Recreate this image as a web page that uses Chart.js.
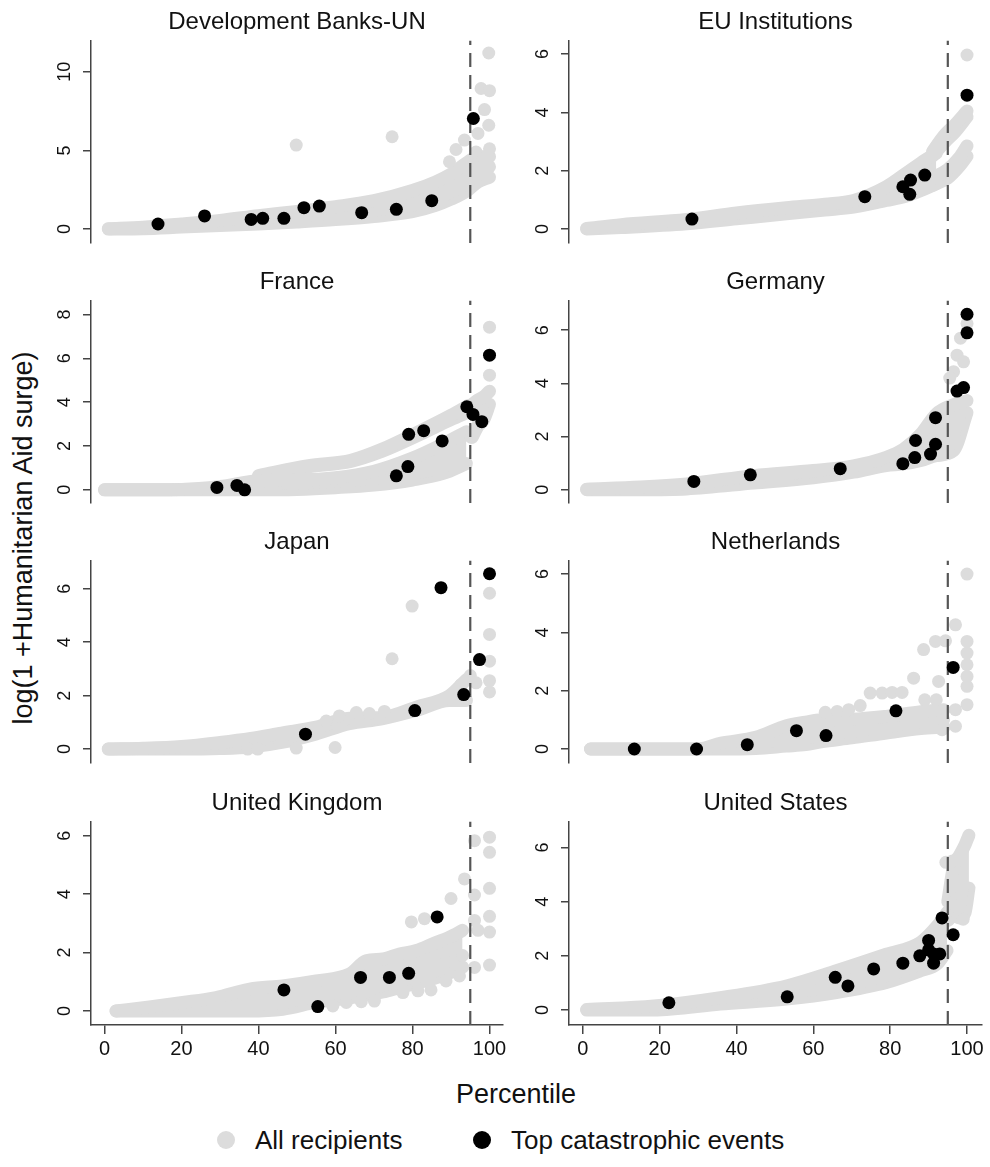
<!DOCTYPE html>
<html>
<head>
<meta charset="utf-8">
<title>Humanitarian aid surge by donor</title>
<script src="https://cdn.jsdelivr.net/npm/chart.js@4.4.1/dist/chart.umd.min.js"></script>
<style>
  body { margin: 0; background: #fff; font-family: 'Liberation Sans', Arial, Helvetica, sans-serif; color: #111; }
  #page { position: relative; width: 990px; height: 1167px; overflow: hidden; }
  #page canvas { position: absolute; }
  .ytitle { position: absolute; left: 23px; top: 538px; transform: translate(-50%, -50%) rotate(-90deg);
            font-size: 27px; line-height: 27px; white-space: nowrap; }
  .xtitle { position: absolute; left: 516px; top: 1081px; transform: translateX(-50%);
            font-size: 27px; line-height: 27px; white-space: nowrap; }
  .leg { position: absolute; top: 1127px; font-size: 26px; line-height: 26px; white-space: nowrap; }
  .dot { position: absolute; top: 1131px; width: 18px; height: 18px; border-radius: 50%; }
</style>
</head>
<body>
<div id="page">
  <div class="ytitle">log(1 +Humanitarian Aid surge)</div>
  <div class="xtitle">Percentile</div>
  <div class="dot" style="left:217px;background:#dcdcdc"></div>
  <div class="leg" style="left:255px">All recipients</div>
  <div class="dot" style="left:473px;background:#000"></div>
  <div class="leg" style="left:511px">Top catastrophic events</div>
</div>
<script>
// panel titles and tick labels
const panelTitles = ['Development Banks-UN', 'EU Institutions', 'France', 'Germany',
                     'Japan', 'Netherlands', 'United Kingdom', 'United States'];
const xTicks = [0, 20, 40, 60, 80, 100];
const yTickSets = [[0, 5, 10], [0, 2, 4, 6], [0, 2, 4, 6, 8], [0, 2, 4, 6],
                   [0, 2, 4, 6], [0, 2, 4, 6], [0, 2, 4, 6], [0, 2, 4, 6]];
const yMins = [-0.89, -0.48, -0.6, -0.5, -0.52, -0.48, -0.48, -0.55];
const yMaxs = [12.0, 6.47, 8.64, 7.12, 7.06, 6.47, 6.49, 6.96];
const cutoffPct = 95; // dashed line

// Development Banks-UN
const devCatX = [13.9, 26.0, 38.1, 41.1, 46.6, 51.8, 55.8, 66.8, 75.8, 85.0, 95.8];
const devCatY = [0.32, 0.83, 0.61, 0.68, 0.68, 1.36, 1.46, 1.04, 1.25, 1.80, 7.03];
const devAllX = [49.8, 74.7, 99.8, 97.8, 100, 98.7, 99.8, 97.0, 93.5, 91.3, 89.6, 100, 100, 96.5, 98.5];
const devAllY = [5.34, 5.87, 11.2, 8.94, 8.8, 7.6, 6.6, 6.08, 5.66, 5.06, 4.28, 5.1, 3.96, 4.9, 4.5];
const devBandX = [1, 10, 20, 30, 40, 50, 60, 70, 80, 86, 90, 94, 97, 100];
const devBandLo = [0, 0.02, 0.12, 0.22, 0.32, 0.45, 0.6, 0.8, 1.1, 1.5, 1.9, 2.4, 3.0, 3.3];
const devBandHi = [0.02, 0.12, 0.32, 0.55, 0.85, 1.12, 1.42, 1.8, 2.45, 3.0, 3.5, 4.2, 4.6, 4.6];

// EU Institutions
const euCatX = [28.4, 73.4, 83.3, 85.3, 85.1, 89.0, 100];
const euCatY = [0.34, 1.11, 1.45, 1.68, 1.19, 1.85, 4.59];
const euAllX = [100];
const euAllY = [5.97];
const euBandX = [1, 10, 27, 40, 53, 63, 70.5, 79, 84, 88, 92];
const euBandLo = [0, 0.05, 0.18, 0.35, 0.52, 0.65, 0.75, 0.98, 1.12, 1.32, 1.55];
const euBandHi = [0.02, 0.15, 0.33, 0.55, 0.73, 0.85, 0.98, 1.45, 1.9, 2.27, 2.6];
const euTopX = [91, 94, 97, 100];
const euTopLo = [2.5, 2.95, 3.35, 3.85];
const euTopHi = [2.65, 3.2, 3.6, 4.05];
const euLowX = [91, 95, 98, 100];
const euLowLo = [1.5, 1.75, 2.15, 2.5];
const euLowHi = [1.75, 2.05, 2.45, 2.85];

// France
const frCatX = [29.2, 34.4, 36.4, 75.8, 78.8, 79.0, 82.9, 87.7, 94.1, 95.7, 98.0, 100];
const frCatY = [0.11, 0.20, 0.0, 0.64, 1.06, 2.53, 2.70, 2.23, 3.79, 3.44, 3.11, 6.14];
const frAllX = [100, 100, 95.2];
const frAllY = [5.23, 7.42, 2.4];
const frBandX = [0, 20, 30, 40, 50, 60, 70, 80, 88, 94];
const frBandLo = [0, 0, 0, 0, 0.02, 0.1, 0.22, 0.45, 0.75, 1.2];
const frBandHi = [0, 0.02, 0.15, 0.42, 0.45, 0.55, 0.85, 1.45, 2.1, 2.65];
const frUpX = [40, 53, 64, 72, 81, 90, 94.5];
const frUpLo = [0.6, 1.05, 1.3, 1.75, 2.45, 3.2, 3.55];
const frUpHi = [0.65, 1.1, 1.35, 1.85, 2.6, 3.4, 3.85];
const frTailX = [95.5, 97, 98.5, 100];
const frTailLo = [2.4, 2.9, 3.2, 3.9];
const frTailHi = [3.9, 4.1, 4.25, 4.5];

// Germany
const deCatX = [28.9, 43.6, 67.0, 83.3, 86.4, 86.6, 90.5, 91.8, 91.8, 97.4, 99.1, 100, 100];
const deCatY = [0.31, 0.56, 0.79, 0.98, 1.21, 1.85, 1.34, 1.71, 2.71, 3.71, 3.84, 5.90, 6.60];
const deAllX = [98.3, 97.4, 99.1, 96.5, 100, 95.5];
const deAllY = [5.70, 5.06, 4.81, 4.44, 6.25, 4.2];
const deBandX = [1, 15, 27, 44.5, 60, 70.5, 79, 83.5, 88, 92, 96.5, 100];
const deBandLo = [0, 0, 0.03, 0.25, 0.45, 0.66, 0.91, 0.97, 1.1, 1.28, 1.47, 2.9];
const deBandHi = [0.02, 0.1, 0.22, 0.53, 0.72, 0.9, 1.22, 1.53, 2.1, 2.85, 3.2, 3.35];

// Japan
const jpCatX = [52.2, 80.6, 87.4, 93.3, 97.4, 100];
const jpCatY = [0.56, 1.44, 6.04, 2.04, 3.35, 6.56];
const jpAllX = [79.9, 74.7, 49.8, 59.9, 37.2, 39.8, 100, 100, 100, 100, 100, 95, 96.5, 92.6, 61, 65.4, 68.8, 72.7, 57.6];
const jpAllY = [5.35, 3.38, 0.04, 0.06, 0, 0, 5.83, 4.29, 3.29, 2.56, 2.14, 2.75, 2.48, 2.41, 1.24, 1.37, 1.33, 1.41, 1.05];
const jpBandX = [1, 10, 20, 30, 38, 46, 55, 63.6, 72, 81, 89.6, 94];
const jpBandLo = [0, 0, 0, 0.02, 0.08, 0.25, 0.57, 0.95, 1.13, 1.45, 1.82, 1.82];
const jpBandHi = [0, 0.03, 0.1, 0.25, 0.4, 0.6, 0.82, 1.15, 1.18, 1.57, 2.0, 2.6];

// Netherlands
const nlCatX = [13.4, 29.6, 42.8, 55.6, 63.3, 81.5, 96.4];
const nlCatY = [0, 0, 0.15, 0.63, 0.46, 1.31, 2.80];
const nlAllX = [63.1, 66.2, 69.2, 72.2, 74.8, 77.9, 80.5, 83.1, 86.1, 88.7, 91.8, 94.4, 97, 100, 100, 100, 100, 100, 100, 100, 97, 97, 93.5, 92.6, 89, 92, 93.9];
const nlAllY = [1.26, 1.29, 1.35, 1.49, 1.92, 1.92, 1.94, 1.94, 2.43, 3.41, 3.69, 3.71, 4.26, 6.0, 3.69, 3.29, 2.89, 2.49, 2.15, 1.52, 1.35, 0.78, 0.66, 2.32, 1.69, 1.69, 1.0];
const nlBandX = [2, 30, 36, 45, 53, 58, 62, 70, 79, 88, 94];
const nlBandLo = [0, 0, 0, 0.02, 0.1, 0.15, 0.25, 0.38, 0.55, 0.7, 0.75];
const nlBandHi = [0, 0, 0.2, 0.4, 0.8, 0.92, 1.0, 1.02, 1.12, 1.28, 1.35];

// United Kingdom
const ukCatX = [46.6, 55.4, 66.5, 74.0, 79.0, 86.4];
const ukCatY = [0.72, 0.15, 1.15, 1.15, 1.29, 3.22];
const ukAllX = [79.7, 83.1, 90, 93.5, 96.1, 100, 100, 100, 96.1, 96.1, 100, 97, 100, 100, 96.1, 93, 88.7, 92.2, 84.8, 81.4, 77.5, 70.1, 66.7, 62.8, 59.3, 88.7];
const ukAllY = [3.05, 3.16, 3.85, 4.52, 5.83, 5.95, 5.43, 4.2, 3.97, 3.1, 3.24, 2.76, 2.7, 1.57, 1.49, 1.9, 1.03, 1.2, 0.72, 0.69, 0.63, 0.34, 0.32, 0.29, 0.17, 1.67];
const ukBandX = [3, 11.7, 20.3, 29, 37.7, 46.3, 55, 63.6, 68, 72.3, 76.6, 81, 85.3, 89.6, 93];
const ukBandLo = [0, 0, 0, 0, 0, 0.06, 0.3, 0.45, 0.55, 0.65, 0.8, 0.95, 1.1, 1.3, 1.5];
const ukBandHi = [0, 0.14, 0.29, 0.46, 0.75, 0.86, 1.03, 1.26, 1.72, 1.78, 1.95, 2.07, 2.3, 2.53, 2.76];

// United States
const usCatX = [22.4, 53.2, 65.7, 69.0, 75.7, 83.3, 87.7, 90.0, 90.0, 91.3, 92.9, 91.3, 93.5, 96.4];
const usCatY = [0.27, 0.49, 1.21, 0.89, 1.52, 1.73, 2.00, 2.57, 2.22, 2.07, 2.07, 1.73, 3.40, 2.78];
const usAllX = [96, 94.5, 95.3, 96.2, 99];
const usAllY = [3.95, 5.45, 5.45, 5.5, 3.35];
const usBandX = [1, 18.5, 35.8, 53, 66, 79, 87.9, 92.2, 94.8];
const usBandLo = [0, 0, 0.22, 0.41, 0.65, 1.02, 1.45, 1.7, 2.2];
const usBandHi = [0.02, 0.15, 0.46, 0.89, 1.45, 2.06, 2.5, 3.1, 3.6];
const usTailX = [95, 96.5, 98, 99.5, 100.5];
const usTailLo = [3.3, 3.5, 3.4, 3.6, 4.5];
const usTailHi = [4.0, 5.3, 5.7, 6.1, 6.45];

const GRAY = '#dcdcdc';
const AXIS = '#444';
Chart.defaults.font.family = "'Liberation Sans', Arial, Helvetica, sans-serif";
Chart.defaults.color = '#111';

// plot area of each panel on the page
const colLeft = [91, 568.5], colRight = [503, 981.7];
const rowTop = [40, 300, 560.7, 821.7], rowBottom = [243, 503.3, 763.3, 1024.5];
const xMinCol = [-3.5, -3.6], xMaxCol = [103.5, 103.9];

const panels = [
  { cat: [devCatX, devCatY], all: [devAllX, devAllY], bands: [[devBandX, devBandLo, devBandHi]] },
  { cat: [euCatX, euCatY], all: [euAllX, euAllY], bands: [[euBandX, euBandLo, euBandHi], [euTopX, euTopLo, euTopHi], [euLowX, euLowLo, euLowHi]] },
  { cat: [frCatX, frCatY], all: [frAllX, frAllY], bands: [[frBandX, frBandLo, frBandHi], [frUpX, frUpLo, frUpHi], [frTailX, frTailLo, frTailHi]] },
  { cat: [deCatX, deCatY], all: [deAllX, deAllY], bands: [[deBandX, deBandLo, deBandHi]] },
  { cat: [jpCatX, jpCatY], all: [jpAllX, jpAllY], bands: [[jpBandX, jpBandLo, jpBandHi]] },
  { cat: [nlCatX, nlCatY], all: [nlAllX, nlAllY], bands: [[nlBandX, nlBandLo, nlBandHi]] },
  { cat: [ukCatX, ukCatY], all: [ukAllX, ukAllY], bands: [[ukBandX, ukBandLo, ukBandHi]] },
  { cat: [usCatX, usCatY], all: [usAllX, usAllY], bands: [[usBandX, usBandLo, usBandHi], [usTailX, usTailLo, usTailHi]] }
];

function pts(xs, ys) {
  return xs.map((x, i) => ({ x: x, y: ys[i] }));
}

const page = document.getElementById('page');

panels.forEach((p, i) => {
  const col = i % 2, row = Math.floor(i / 2);
  const bottomRow = row === 3;
  const axisW = 60, padR = 8, titleH = 32.4;
  const padB = bottomRow ? 2 : 26;
  const xAxisH = bottomRow ? 40 : 0;
  const left = Math.round(colLeft[col] - axisW);
  const top = Math.round(rowTop[row] - titleH);
  const w = Math.round(colRight[col] + padR - left);
  const h = Math.round(rowBottom[row] - top + xAxisH + padB);

  const cv = document.createElement('canvas');
  cv.width = w; cv.height = h;
  cv.style.left = left + 'px'; cv.style.top = top + 'px';
  cv.style.width = w + 'px'; cv.style.height = h + 'px';
  page.appendChild(cv);

  const datasets = [
    { type: 'scatter', label: 'Top catastrophic events', data: pts(p.cat[0], p.cat[1]),
      backgroundColor: '#000', borderWidth: 0, pointRadius: 6.5, order: 0 },
    { type: 'line', label: 'cutoff', data: [{ x: cutoffPct, y: yMins[i] }, { x: cutoffPct, y: yMaxs[i] }],
      borderColor: '#555', borderWidth: 2.2, borderDash: [14, 8], pointRadius: 0, fill: false, order: 1 },
    { type: 'scatter', label: 'All recipients', data: pts(p.all[0], p.all[1]),
      backgroundColor: GRAY, borderWidth: 0, pointRadius: 6.5, order: 2 }
  ];
  p.bands.forEach(b => {
    const common = { type: 'line', borderColor: GRAY, borderWidth: 13, borderCapStyle: 'round',
                     borderJoinStyle: 'round', cubicInterpolationMode: 'monotone', pointRadius: 0, order: 3 };
    datasets.push(Object.assign({ label: 'All recipients', data: pts(b[0], b[2]), backgroundColor: GRAY, fill: '+1' }, common));
    datasets.push(Object.assign({ label: 'All recipients', data: pts(b[0], b[1]), fill: false }, common));
  });

  const yPad = String(yTickSets[i][yTickSets[i].length - 1]).length > 1 ? 8 : 13;

  new Chart(cv, {
    type: 'scatter',
    data: { datasets: datasets },
    options: {
      responsive: false,
      animation: false,
      events: [],
      layout: { padding: { left: 0, top: 0, right: padR, bottom: padB } },
      plugins: {
        legend: { display: false },
        tooltip: { enabled: false },
        title: { display: true, text: panelTitles[i], fullSize: false, color: '#111',
                 font: { size: 24, weight: 'normal' }, padding: { top: 0, bottom: 3.6 } }
      },
      scales: {
        x: {
          type: 'linear', min: xMinCol[col], max: xMaxCol[col], display: bottomRow,
          afterBuildTicks: s => { s.ticks = xTicks.map(v => ({ value: v })); },
          afterFit: s => { if (bottomRow) s.height = xAxisH; },
          ticks: { font: { size: 20 }, color: '#111', padding: 3.5, maxRotation: 0, autoSkip: false },
          grid: { drawOnChartArea: false, drawTicks: true, tickLength: 9, color: AXIS, lineWidth: 1.5 },
          border: { display: true, color: AXIS, width: 1.5 }
        },
        y: {
          type: 'linear', min: yMins[i], max: yMaxs[i],
          afterBuildTicks: s => { s.ticks = yTickSets[i].map(v => ({ value: v })); },
          afterFit: s => { s.width = axisW; s.paddingTop = 0; s.paddingBottom = 0; },
          ticks: { font: { size: 18 }, color: '#111', minRotation: 90, maxRotation: 90,
                   crossAlign: 'center', padding: yPad, autoSkip: false },
          grid: { drawOnChartArea: false, drawTicks: true, tickLength: 8, color: AXIS, lineWidth: 1.5 },
          border: { display: true, color: AXIS, width: 1.5 }
        }
      }
    }
  });
});
</script>
</body>
</html>
